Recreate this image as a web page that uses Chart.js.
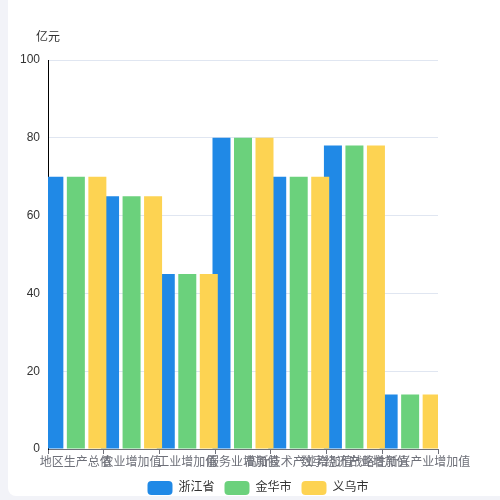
<!DOCTYPE html>
<html><head><meta charset="utf-8">
<script src="https://cdn.jsdelivr.net/npm/chart.js@4/dist/chart.umd.min.js"></script>
<style>
html,body{margin:0;padding:0;width:500px;height:500px;overflow:hidden;background:#f2f3f8;}
#card{position:absolute;left:8px;top:-10px;width:520px;height:506px;background:#fff;border-radius:8px;}
#c{position:absolute;left:8px;top:0;}
</style></head>
<body>
<div id="card"></div>
<canvas id="c" width="500" height="505" style="width:500px;height:505px"></canvas>
<script>
const categories = ["地区生产总值","农业增加值","工业增加值","服务业增加值","高新技术产业增加值","数字经济产业增加值","战略性新兴产业增加值"];
const seriesNames = ["浙江省","金华市","义乌市"];
const zhejiang = [70,65,45,80,70,78,14];
const jinhua   = [70,65,45,80,70,78,14];
const yiwu     = [70,65,45,80,70,78,14];
const yTicks = [0,20,40,60,80,100];
const unitLabel = "亿元";
const colors = ["#2089e6","#6bd17c","#fdd352"];

const FONT = "'Liberation Sans','Noto Sans CJK SC',sans-serif";

const drawOrderPlugin = {
  id:'drawOrder',
  beforeDatasetsDraw(chart){
    const ctx = chart.ctx, a = chart.chartArea;
    ctx.save();
    ctx.beginPath();
    ctx.rect(a.left, a.top, a.right - a.left, a.bottom - a.top);
    ctx.clip();
    for (let i = 0; i < chart.data.datasets.length; i++) {
      const m = chart.getDatasetMeta(i);
      if (!m.hidden && chart.isDatasetVisible(i)) m.controller.draw();
    }
    ctx.restore();
    return false;
  }
};
const unitPlugin = {
  id:'unit',
  afterDraw(chart){
    const ctx = chart.ctx;
    ctx.save();
    ctx.font = "12px " + FONT;
    ctx.fillStyle = "#333";
    ctx.textAlign = "center";
    ctx.textBaseline = "middle";
    ctx.fillText(unitLabel, chart.scales.y.right, 38);
    ctx.restore();
  }
};

const values = [zhejiang, jinhua, yiwu];
new Chart(document.getElementById('c'), {
  type:'bar',
  data:{
    labels: categories,
    datasets: seriesNames.map((n,i)=>({
      label:n, data:values[i], backgroundColor:colors[i], borderWidth:0,
      categoryPercentage:1.158, barPercentage:0.837
    }))
  },
  options:{
    responsive:false, animation:false,
    layout:{padding:{top:60,bottom:0,left:0,right:0}},
    plugins:{
      legend:{position:'bottom',
        labels:{boxWidth:25,boxHeight:14,useBorderRadius:true,borderRadius:4,padding:10,color:'#333',font:{size:12,family:FONT}}},
      tooltip:{enabled:false},
      title:{display:false}
    },
    scales:{
      x:{
        grid:{display:true,drawOnChartArea:false,drawTicks:true,tickLength:5,color:'#6e7079',offset:true},
        border:{display:true,color:'#6e7079'},
        ticks:{autoSkip:false,maxRotation:0,minRotation:0,padding:1,color:'#6e7079',font:{size:12,family:FONT}},
        afterFit(s){s.height = 22;}
      },
      y:{
        min:0,max:100,
        afterBuildTicks(s){s.ticks = yTicks.map(v=>({value:v}));},
        grid:{color:'#e0e6f1',drawTicks:false},
        border:{display:true,color:'#000'},
        ticks:{padding:8,color:'#333',font:{size:12,family:FONT}},
        afterFit(s){s.width = 40;}
      },
      y2:{
        position:'right',display:true,
        grid:{display:false,drawTicks:false},
        border:{display:false},
        ticks:{display:false},
        afterFit(s){s.width = 70;}
      }
    }
  },
  plugins:[drawOrderPlugin, unitPlugin]
});
</script>
</body></html>
